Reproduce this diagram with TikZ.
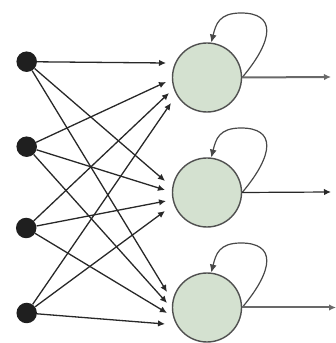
\documentclass[tikz,border=0pt]{standalone}
\usetikzlibrary{arrows.meta}

\definecolor{cellfill}{RGB}{212,225,208}
\definecolor{cellline}{RGB}{80,80,80}
\definecolor{wire}{RGB}{40,40,40}
\definecolor{outwire}{RGB}{105,105,105}

\tikzset{
  inputdot/.style={circle, fill=black!88, inner sep=0pt, minimum size=20.5pt},
  cell/.style={circle, draw=cellline, line width=1.4pt, fill=cellfill, inner sep=0pt, minimum size=69pt},
  wirearrow/.style={draw=wire, line width=1.3pt, -{Latex[length=7pt,width=6.5pt]}},
  loopwire/.style={draw=wire!85, line width=1.2pt, -{Latex[length=8pt,width=7pt]}},
  outarrow/.style={draw=outwire, line width=2pt, -{Latex[length=7pt,width=6.5pt]}},
  outarrowthin/.style={draw=wire, line width=1.2pt, -{Latex[length=7pt,width=6.5pt]}},
}

\begin{document}
\begin{tikzpicture}[x=1pt, y=1pt]
  \useasboundingbox (0,0) rectangle (335,343);

  % input layer
  \node[inputdot] (i1) at (26.7,281.3) {};
  \node[inputdot] (i2) at (26.7,196.3) {};
  \node[inputdot] (i3) at (26.2,115.0) {};
  \node[inputdot] (i4) at (26.7, 30.0) {};

  % recurrent units
  \node[cell] (n1) at (207,265.5) {};
  \node[cell] (n2) at (207,150.5) {};
  \node[cell] (n3) at (207, 35.5) {};

  % output ends
  \coordinate (o1) at (331,266);
  \coordinate (o2) at (331,151);
  \coordinate (o3) at (336,35.5);

  % feed-forward connections: every input to every unit
  \draw[wirearrow] (i1) -- ([shift={(-41,14.5)}]n1.center);
  \draw[wirearrow] (i2) -- ([shift={(-41,-4.5)}]n1.center);
  \draw[wirearrow] (i3) -- ([shift={(-38,-15.5)}]n1.center);
  \draw[wirearrow] (i4) -- ([shift={(-36,-25.5)}]n1.center);

  \draw[wirearrow] (i1) -- ([shift={(-42,11.5)}]n2.center);
  \draw[wirearrow] (i2) -- ([shift={(-42,2.5)}]n2.center);
  \draw[wirearrow] (i3) -- ([shift={(-41,-8.5)}]n2.center);
  \draw[wirearrow] (i4) -- ([shift={(-42,-18.5)}]n2.center);

  \draw[wirearrow] (i1) -- ([shift={(-40,15.5)}]n3.center);
  \draw[wirearrow] (i2) -- ([shift={(-40,4.5)}]n3.center);
  \draw[wirearrow] (i3) -- ([shift={(-40,-5.5)}]n3.center);
  \draw[wirearrow] (i4) -- ([shift={(-42,-16.5)}]n3.center);

  % self-loops
  \foreach \n in {n1,n2,n3}{
    \draw[loopwire] (\n.east)
      .. controls +(50:50) and +(35,0) .. ([shift={(34,64.5)}]\n.center)
      .. controls +(-22,0) and +(76:19) .. (\n.83);
  }

  % outputs
  \draw[outarrow] (n1.east) -- (o1);
  \draw[outarrowthin] (n2.east) -- (o2);
  \draw[outarrow] (n3.east) -- (o3);
\end{tikzpicture}
\end{document}
